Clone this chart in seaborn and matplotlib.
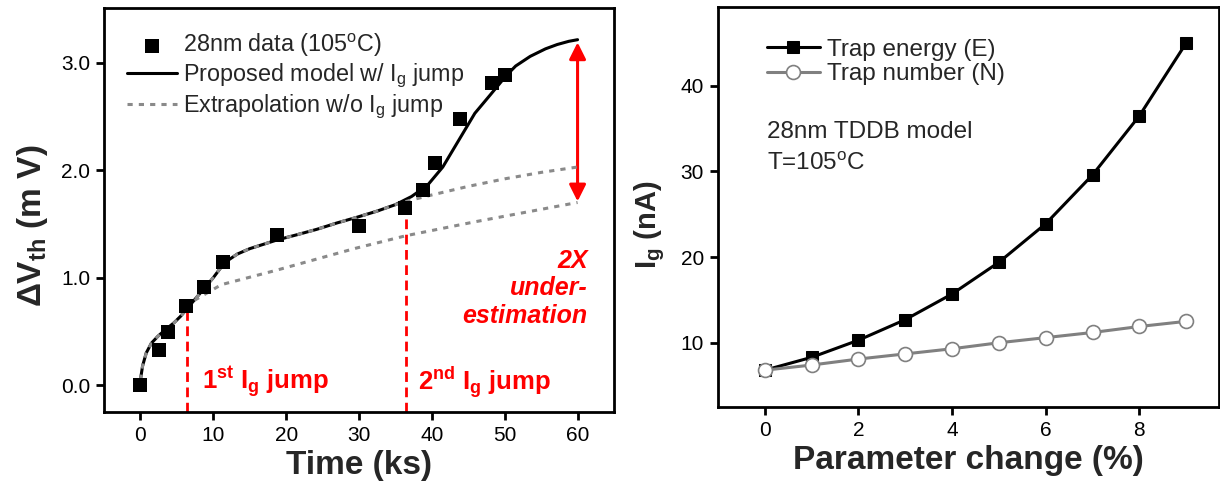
import numpy as np
import pandas as pd
import matplotlib
matplotlib.use("Agg")
import matplotlib.pyplot as plt
import seaborn as sns

# ---------------- data: left panel ----------------
t_data = [0.0, 2.5, 3.75, 6.2, 8.7, 11.3, 18.8, 30.0, 36.3, 38.8, 40.4, 43.8, 48.2, 50.1]
v_data = [0.0, 0.33, 0.49, 0.74, 0.91, 1.15, 1.40, 1.48, 1.65, 1.82, 2.07, 2.48, 2.81, 2.89]

t_model = [0.0, 0.3, 0.8, 1.5, 2.4, 3.5, 4.6, 5.5, 6.5, 7.5, 9.0, 10.0, 11.1, 12.2, 13.3, 15.0,
           18.7, 21.5, 24.2, 27.0, 29.6, 32.5, 35.0, 37.2, 39.4, 41.5, 43.7, 45.9, 48.0, 50.2,
           51.5, 53.5, 55.6, 57.2, 58.8, 60.0]
v_model = [0.05, 0.18, 0.30, 0.39, 0.455, 0.52, 0.58, 0.64, 0.72, 0.80, 0.92, 1.00, 1.10, 1.17,
           1.22, 1.27, 1.35, 1.40, 1.45, 1.51, 1.56, 1.62, 1.68, 1.755, 1.86, 2.03, 2.28, 2.53,
           2.70, 2.88, 2.97, 3.06, 3.13, 3.17, 3.20, 3.215]

t_extra_hi = [0.0, 0.3, 0.8, 1.5, 2.4, 3.5, 4.6, 5.5, 6.5, 7.5, 9.0, 10.0, 11.1, 12.2, 13.3, 15.0,
              18.7, 21.5, 24.2, 27.0, 29.6, 32.5, 35.0, 37.0, 40.0, 45.0, 50.0, 55.0, 60.0]
v_extra_hi = [0.05, 0.18, 0.30, 0.39, 0.455, 0.52, 0.58, 0.64, 0.72, 0.80, 0.92, 1.00, 1.10, 1.17,
              1.22, 1.27, 1.35, 1.40, 1.45, 1.51, 1.56, 1.62, 1.68, 1.72, 1.77, 1.85, 1.92, 1.98, 2.03]

t_extra_lo = [6.3, 6.8, 11.1, 18.7, 29.6, 36.4, 45.9, 60.0]
v_extra_lo = [0.72, 0.765, 0.935, 1.07, 1.275, 1.39, 1.52, 1.70]

jump_t = [6.4, 36.5]
jump_v = [0.72, 1.70]
jump_labels = [r"1$^\mathbf{st}$ I$_\mathbf{g}$ jump", r"2$^\mathbf{nd}$ I$_\mathbf{g}$ jump"]

arrow_t = 60.0
arrow_v = [3.19, 1.71]

left_xticks = [0, 10, 20, 30, 40, 50, 60]
left_yticks = [0.0, 1.0, 2.0, 3.0]

# ---------------- data: right panel ----------------
param_change = [0, 1, 2, 3, 4, 5, 6, 7, 8, 9]
ig_energy = [6.8, 8.3, 10.3, 12.7, 15.7, 19.4, 23.9, 29.6, 36.5, 45.0]
ig_number = [6.8, 7.4, 8.1, 8.7, 9.3, 10.0, 10.6, 11.2, 11.9, 12.5]
right_xticks = [0, 2, 4, 6, 8]
right_yticks = [10, 20, 30, 40]

# ---------------- style ----------------
sns.set_theme(style="ticks")
plt.rcParams["font.family"] = ["Liberation Sans", "DejaVu Sans"]
plt.rcParams["mathtext.fontset"] = "custom"
plt.rcParams["mathtext.rm"] = "Liberation Sans"
plt.rcParams["mathtext.it"] = "Liberation Sans:italic"
plt.rcParams["mathtext.bf"] = "Liberation Sans:bold"
plt.rcParams["mathtext.default"] = "regular"

W, H = 1220, 494
fig = plt.figure(figsize=(W / 100, H / 100), dpi=100)
fig.patch.set_facecolor("white")

def px_axes(x0, x1, y0, y1):
    return fig.add_axes([x0 / W, 1 - y1 / H, (x1 - x0) / W, (y1 - y0) / H])

axL = px_axes(104, 614, 8, 412)
axR = px_axes(718, 1219, 7, 407)

GRAY = "#8a8a8a"
RED = "#ff0000"
TICK_FS = 15
LEG_FS_L = 16.8
LEG_FS_R = 17.5

# ---------------- left panel ----------------
df_model = pd.DataFrame({"t": t_model, "v": v_model})
df_hi = pd.DataFrame({"t": t_extra_hi, "v": v_extra_hi})
df_lo = pd.DataFrame({"t": t_extra_lo, "v": v_extra_lo})
df_data = pd.DataFrame({"t": t_data, "v": v_data})

sns.lineplot(data=df_model, x="t", y="v", ax=axL, color="black", lw=2.2, sort=False,
             estimator=None, label="Proposed model w/ I$_\\mathrm{g}$ jump", zorder=3)
sns.lineplot(data=df_hi, x="t", y="v", ax=axL, color=GRAY, lw=2.2, sort=False,
             estimator=None, label="Extrapolation w/o I$_\\mathrm{g}$ jump", zorder=4)
sns.lineplot(data=df_lo, x="t", y="v", ax=axL, color=GRAY, lw=2.2, sort=False,
             estimator=None, zorder=4)
for ln in axL.get_lines()[1:]:
    ln.set_dashes([1.7, 2.0])
sns.scatterplot(data=df_data, x="t", y="v", ax=axL, marker="s", s=95, color="black",
                edgecolor="black", linewidth=0, label="28nm data (105$^\\mathrm{o}$C)", zorder=5)

for tj, vj in zip(jump_t, jump_v):
    axL.plot([tj, tj], [-0.25, vj], color=RED, lw=2, dashes=[3.5, 2], zorder=2)
axL.text(8.5, 0.03, jump_labels[0], color=RED, fontsize=18.5, fontweight="bold", va="center", ha="left")
axL.text(38.1, 0.03, jump_labels[1], color=RED, fontsize=18.5, fontweight="bold", va="center", ha="left")

axL.annotate("", xy=(arrow_t, arrow_v[0]), xytext=(arrow_t, arrow_v[1]),
             arrowprops=dict(arrowstyle="<|-|>", color=RED, lw=2.2, mutation_scale=25,
                             shrinkA=0, shrinkB=0))
axL.text(61.4, 0.90, "2X\nunder-\nestimation", color=RED, fontsize=18, fontweight="bold",
         fontstyle="italic", ha="right", va="center", linespacing=1.18)

axL.set_xlim(-5, 65)
axL.set_ylim(-0.25, 3.51)
axL.set_xticks(left_xticks)
axL.set_yticks(left_yticks)
axL.set_yticklabels([f"{v:.1f}" for v in left_yticks])
axL.set_xlabel("Time (ks)", fontsize=24, fontweight="bold", labelpad=4)
axL.set_ylabel(r"ΔV$_\mathbf{th}$ (m V)", fontsize=24, fontweight="bold", labelpad=6)
axL.yaxis.set_label_coords(-0.105, 0.46)

handles, labels = axL.get_legend_handles_labels()
order = [2, 0, 1]
axL.legend([handles[i] for i in order], [labels[i] for i in order], loc="upper left",
           bbox_to_anchor=(0.013, 0.982), frameon=False, fontsize=LEG_FS_L, handlelength=2.15,
           handletextpad=0.25, labelspacing=0.12, borderpad=0.2, markerscale=1.0)

# ---------------- right panel ----------------
df_r = pd.DataFrame({
    "p": param_change * 2,
    "ig": ig_energy + ig_number,
    "kind": ["Trap energy (E)"] * len(param_change) + ["Trap number (N)"] * len(param_change),
})
sns.lineplot(data=df_r[df_r.kind == "Trap energy (E)"], x="p", y="ig", ax=axR, color="black",
             lw=2.2, marker="s", markersize=9, markerfacecolor="black", markeredgecolor="black",
             label="Trap energy (E)", zorder=4)
sns.lineplot(data=df_r[df_r.kind == "Trap number (N)"], x="p", y="ig", ax=axR, color="#808080",
             lw=2.2, marker="o", markersize=10, markerfacecolor="white", markeredgecolor="#808080",
             markeredgewidth=1.2, label="Trap number (N)", zorder=5)

axR.set_xlim(-1, 9.7)
axR.set_ylim(2.5, 49.2)
axR.set_xticks(right_xticks)
axR.set_yticks(right_yticks)
axR.set_xlabel("Parameter change (%)", fontsize=24, fontweight="bold", labelpad=4)
axR.set_ylabel(r"I$_\mathbf{g}$ (nA)", fontsize=21, fontweight="bold", labelpad=6)
axR.yaxis.set_label_coords(-0.102, 0.455)
axR.text(0.04, 34.6, "28nm TDDB model", fontsize=LEG_FS_R, va="center", ha="left")
axR.text(0.04, 30.9, "T=105$^\\mathrm{o}$C", fontsize=LEG_FS_R, va="center", ha="left")
axR.legend(loc="upper left", bbox_to_anchor=(0.063, 0.963), frameon=False, fontsize=LEG_FS_R,
           handlelength=2.2, handletextpad=0.3, labelspacing=0.1, borderpad=0.2)

for ax in (axL, axR):
    for sp in ax.spines.values():
        sp.set_visible(True)
        sp.set_linewidth(2.0)
        sp.set_color("black")
    ax.tick_params(axis="both", which="major", direction="out", length=6, width=2,
                   labelsize=TICK_FS, colors="black", pad=4)
    ax.set_facecolor("white")
    ax.grid(False)

fig.savefig("out.png", dpi=100, facecolor="white")
